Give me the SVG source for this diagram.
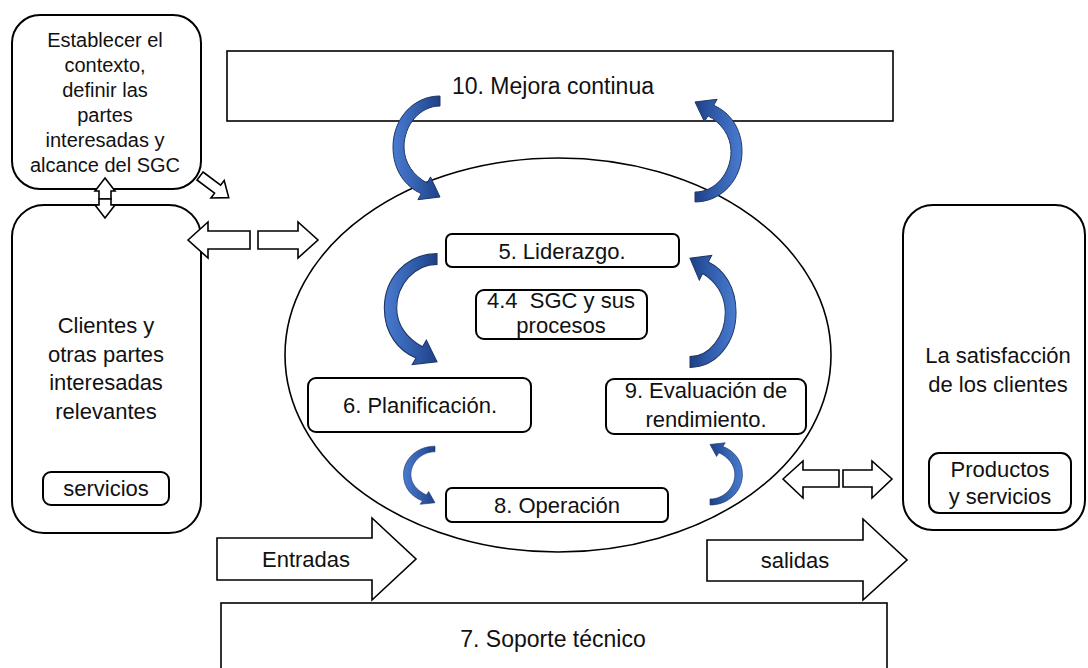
<svg xmlns="http://www.w3.org/2000/svg" width="1088" height="668" viewBox="0 0 1088 668">
<style>
text{font-family:"Liberation Sans",Arial,sans-serif;fill:#111;text-anchor:middle}
.t22{font-size:22px}
.t23{font-size:23px}
.t19{font-size:20px}
.box{fill:#fff;stroke:#000;stroke-width:2}
.rect{fill:#fff;stroke:#000;stroke-width:1.6}
.blk{fill:#fff;stroke:#000;stroke-width:1.6;stroke-linejoin:miter}
.blue{fill:url(#bg);stroke:#1f3864;stroke-width:1;vector-effect:non-scaling-stroke}
</style>
<defs>
<linearGradient id="bg" x1="0" y1="0" x2="1" y2="0">
<stop offset="0" stop-color="#4a7bd0"/>
<stop offset="0.6" stop-color="#2f5aa8"/>
<stop offset="1" stop-color="#1f3f88"/>
</linearGradient>
<path id="carrow" d="M 0,-5 C -27,-5 -47,18 -47,46 C -47,70 -34,86 -18.7,92.6 L -22.1,98.7 L 0,96 L -9.5,75.9 L -12.9,82 C -26,75 -36,62 -36,46 C -36,24 -20,5 0,5 Z"/>
</defs>
<rect width="1088" height="668" fill="#fff"/>

<g id="mejora"><rect class="rect" x="227" y="51" width="666" height="70"/><text class="t23" x="553" y="94">10. Mejora continua</text></g>
<g id="soporte"><rect class="rect" x="221" y="603" width="666" height="70"/><text class="t23" x="553" y="647">7. Soporte técnico</text></g>
<g id="sgc-ellipse"><ellipse cx="558" cy="355" rx="273" ry="197" fill="#fff" stroke="#000" stroke-width="1.6"/></g>

<g id="contexto"><rect class="box" x="12" y="15" width="189" height="174" rx="28"/>
<text class="t19" x="105" y="47">Establecer el</text>
<text class="t19" x="105" y="72">contexto,</text>
<text class="t19" x="105" y="97">definir las</text>
<text class="t19" x="105" y="122">partes</text>
<text class="t19" x="105" y="147">interesadas y</text>
<text class="t19" x="105" y="172">alcance del SGC</text></g>

<g id="clientes"><rect class="box" x="12" y="205" width="189" height="328" rx="32"/>
<text class="t22" x="106" y="333">Clientes y</text>
<text class="t22" x="106" y="362">otras partes</text>
<text class="t22" x="106" y="390">interesadas</text>
<text class="t22" x="106" y="419">relevantes</text></g>
<g id="servicios"><rect class="box" x="43" y="472" width="126" height="33" rx="8"/><text class="t22" x="106" y="496">servicios</text></g>

<g id="satisfaccion"><rect class="box" x="903" y="205" width="182" height="325" rx="30"/>
<text class="t22" x="998" y="363">La satisfacción</text>
<text class="t22" x="998" y="392">de los clientes</text></g>
<g id="productos"><rect class="box" x="929" y="453" width="142" height="60" rx="10"/>
<text class="t22" x="1000" y="477">Productos</text>
<text class="t22" x="1000" y="504">y servicios</text></g>

<g id="liderazgo"><rect class="box" x="446" y="234" width="233" height="33" rx="6"/><text class="t22" x="562" y="259">5. Liderazgo.</text></g>
<g id="procesos"><rect class="box" x="476" y="290" width="171" height="49" rx="8"/>
<text class="t22" x="561" y="308">4.4&#160; SGC y sus</text>
<text class="t22" x="561" y="333">procesos</text></g>
<g id="planificacion"><rect class="box" x="308" y="378" width="223" height="54" rx="8"/><text class="t22" x="420" y="413">6. Planificación.</text></g>
<g id="evaluacion"><rect class="box" x="606" y="379" width="200" height="55" rx="8"/>
<text class="t22" x="706" y="398">9. Evaluación de</text>
<text class="t22" x="706" y="427">rendimiento.</text></g>
<g id="operacion"><rect class="box" x="446" y="488" width="222" height="34" rx="6"/><text class="t22" x="557" y="513">8. Operación</text></g>

<g id="connectors">
<use href="#carrow" class="blue" transform="translate(440,101)"/>
<use href="#carrow" class="blue" transform="translate(695,197) rotate(180) scale(1,0.99)"/>
<use href="#carrow" class="blue" transform="translate(437,259) scale(1.12,1.07)"/>
<use href="#carrow" class="blue" transform="translate(690,362) rotate(180) scale(0.98,1.08)"/>
<use href="#carrow" class="blue" transform="translate(435,449) scale(0.67,0.56)"/>
<use href="#carrow" class="blue" transform="translate(710,502) rotate(180) scale(0.69,0.6)"/>
<polygon class="blk" points="105,178 115,191 111,191 111,199 99,199 99,191 95,191"/>
<polygon class="blk" points="99,199 111,199 111,205 115,205 105,218 95,205 99,205"/>
<polygon class="blk" points="0,-5 22,-5 22,-11 36,0 22,11 22,5 0,5" transform="translate(200,176) rotate(37)"/>
<polygon class="blk" points="188,240 208,222 208,231 250,231 250,249 208,249 208,258"/>
<polygon class="blk" points="258,231 298,231 298,222 318,240 298,258 298,249 258,249"/>
<polygon class="blk" points="783,479 803,461 803,470 839,470 839,487 803,487 803,498"/>
<polygon class="blk" points="843,470 872,470 872,461 892,479 872,498 872,487 843,487"/>
<g id="entradas"><polygon class="blk" points="217,538 372,538 372,518 416,559 372,600 372,580 217,580"/><text class="t22" x="306" y="567">Entradas</text></g>
<g id="salidas"><polygon class="blk" points="707,540 863,540 863,519 907,560 863,600 863,581 707,581"/><text class="t22" x="795" y="568">salidas</text></g>
</g>
</svg>
